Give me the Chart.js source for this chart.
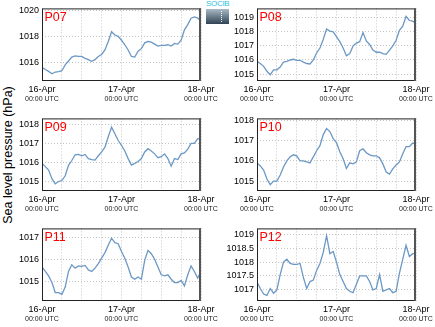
<!DOCTYPE html>
<html>
<head>
<meta charset="utf-8">
<script src="https://cdn.jsdelivr.net/npm/chart.js@4.4.1/dist/chart.umd.min.js"></script>
<style>
  body { margin: 0; width: 435px; height: 327px; overflow: hidden; background: #fff; position: relative; font-family: 'Liberation Sans', Arial, sans-serif; }
  canvas { position: absolute; }
  #ylabel { position: absolute; left: 8px; top: 155px; transform: translate(-50%, -50%) rotate(-90deg); font-size: 12.5px; white-space: nowrap; color: #000; }
  #logo { position: absolute; left: 206px; top: 0; width: 23px; }
  #logo span { display: block; font-size: 8px; line-height: 8px; color: #2ec2e0; letter-spacing: -0.3px; }
  #logo div { height: 15px; margin-top: 1px; background: linear-gradient(#a9bac6, #2f4354); position: relative; }
  #logo div::after { content: ''; position: absolute; left: 15px; top: 2px; height: 11px; border-left: 1px dotted #fff; }
</style>
</head>
<body>
<div id="ylabel">Sea level pressure (hPa)</div>
<div id="logo"><span>SOCIB</span><div></div></div>
<script>
// hours since 16-Apr 00:00 UTC
const hours = [0, 1, 2, 3, 4, 5, 6, 7, 8, 9, 10, 11, 12, 13, 14, 15, 16, 17, 18, 19, 20, 21, 22, 23, 24,
  25, 26, 27, 28, 29, 30, 31, 32, 33, 34, 35, 36, 37, 38, 39, 40, 41, 42, 43, 44, 45, 46, 47, 48];

const dayHours = [0, 24, 48];
const dayLabels = ['16-Apr', '17-Apr', '18-Apr'];
const timeLabel = '00:00 UTC';

const stations = ['P07', 'P08', 'P09', 'P10', 'P11', 'P12'];

// sea level pressure, hPa
const p07 = [1015.62, 1015.45, 1015.3, 1015.12, 1015.25, 1015.28, 1015.35, 1015.8, 1016.1, 1016.4,
  1016.5, 1016.45, 1016.45, 1016.3, 1016.2, 1016.08, 1016.2, 1016.45, 1016.6, 1016.95,
  1017.6, 1018.35, 1018.1, 1018.0, 1017.7, 1017.35, 1016.95, 1016.45, 1016.4, 1016.85,
  1017.05, 1017.5, 1017.6, 1017.55, 1017.4, 1017.25, 1017.3, 1017.3, 1017.35, 1017.25,
  1017.45, 1017.4, 1017.7, 1018.5, 1018.9, 1019.4, 1019.5, 1019.4, 1019.15];
const p08 = [1015.9, 1015.75, 1015.55, 1015.2, 1014.95, 1015.3, 1015.3, 1015.5, 1015.85, 1015.9,
  1016.0, 1016.05, 1015.98, 1015.98, 1015.85, 1015.75, 1015.72, 1016.0, 1016.5, 1016.85,
  1017.45, 1018.2, 1018.05, 1018.0, 1017.65, 1017.3, 1016.85, 1016.3, 1016.45, 1017.0,
  1017.2, 1017.3, 1017.95, 1017.35, 1017.1, 1016.7, 1016.55, 1016.55, 1016.45, 1016.4,
  1016.7, 1017.0, 1017.4, 1018.1, 1018.4, 1019.1, 1018.8, 1018.75, 1018.6];
const p09 = [1015.95, 1015.78, 1015.6, 1015.15, 1014.88, 1015.0, 1015.05, 1015.3, 1015.85, 1016.1,
  1016.4, 1016.42, 1016.35, 1016.42, 1016.2, 1016.15, 1016.12, 1016.35, 1016.55, 1016.8,
  1017.35, 1017.85, 1017.5, 1017.15, 1016.9, 1016.6, 1016.2, 1015.86, 1015.95, 1016.05,
  1016.2, 1016.55, 1016.72, 1016.6, 1016.45, 1016.25, 1016.3, 1016.45, 1016.2, 1015.8,
  1016.2, 1016.15, 1016.45, 1016.5, 1016.7, 1017.0, 1017.0, 1017.25, 1017.22];
const p10 = [1015.9, 1015.75, 1015.55, 1015.1, 1014.82, 1015.0, 1015.0, 1015.3, 1015.7, 1016.0,
  1016.2, 1016.3, 1016.25, 1016.0, 1016.0, 1015.95, 1015.9, 1016.2, 1016.5, 1016.75,
  1017.3, 1017.6, 1017.45, 1017.1, 1016.9, 1016.45, 1016.1, 1015.62, 1015.9, 1015.85,
  1015.95, 1016.5, 1016.6, 1016.4, 1016.3, 1016.25, 1016.25, 1016.15, 1015.85, 1015.45,
  1015.35, 1015.6, 1015.8, 1015.95, 1016.35, 1016.7, 1016.7, 1016.88, 1016.85];
const p11 = [1015.66, 1015.45, 1015.25, 1014.95, 1014.5, 1014.5, 1014.42, 1014.75, 1015.45, 1015.75,
  1015.6, 1015.7, 1015.68, 1015.72, 1015.52, 1015.45, 1015.6, 1015.8, 1016.05, 1016.3,
  1016.63, 1016.95, 1016.75, 1016.7, 1016.35, 1016.05, 1015.65, 1015.2, 1015.1, 1015.2,
  1015.1, 1015.95, 1016.4, 1016.25, 1016.0, 1015.65, 1015.3, 1015.25, 1015.3, 1015.1,
  1014.95, 1014.95, 1015.05, 1014.8, 1015.3, 1015.7, 1015.45, 1015.15, 1015.45];
const p12 = [1017.28, 1017.05, 1016.85, 1016.8, 1017.05, 1016.88, 1017.0, 1017.55, 1018.0, 1018.1,
  1017.95, 1017.92, 1017.92, 1017.95, 1017.45, 1017.05, 1017.3, 1017.35, 1017.7, 1017.95,
  1018.35, 1018.95, 1018.3, 1018.38, 1018.0, 1017.55, 1017.3, 1017.05, 1016.95, 1016.9,
  1017.2, 1017.5, 1017.5, 1017.5, 1017.3, 1017.0, 1017.05, 1017.55, 1016.95, 1017.0,
  1017.05, 1016.9, 1016.95, 1017.6, 1018.1, 1018.6, 1018.2, 1018.3, 1018.3];

const series = [p07, p08, p09, p10, p11, p12];

// pressure tick labels per station
const yTicks = [
  [1016, 1018, 1020],
  [1015, 1016, 1017, 1018, 1019],
  [1015, 1016, 1017, 1018],
  [1015, 1016, 1017, 1018],
  [1015, 1016, 1017],
  [1017, 1017.5, 1018, 1018.5, 1019]
];

// axis extents per station
const yMins = [1014.56, 1014.51, 1014.5, 1014.51, 1014.12, 1016.6];
const yMaxs = [1020.15, 1019.66, 1018.31, 1018.1, 1017.39, 1019.21];

const FONT = "'Liberation Sans', Arial, sans-serif";
const GRID = '#c4c4c4';

// station name in the top-left corner of the plot
const stationLabel = {
  id: 'stationLabel',
  afterDatasetsDraw(chart, args, opts) {
    const { ctx, chartArea } = chart;
    ctx.save();
    ctx.fillStyle = '#ff0000';
    ctx.font = '12.5px ' + FONT;
    ctx.textBaseline = 'alphabetic';
    ctx.fillText(opts.text, chartArea.left + 2.5, chartArea.top + 12.5);
    ctx.restore();
  }
};

// box round the plot area
const frame = {
  id: 'frame',
  afterDraw(chart) {
    const { ctx, chartArea: a } = chart;
    ctx.save();
    ctx.strokeStyle = '#222';
    ctx.lineWidth = 1;
    ctx.strokeRect(a.left + 0.5, a.top + 0.5, a.right - a.left - 1, a.bottom - a.top - 1);
    ctx.strokeStyle = '#555';
    ctx.lineWidth = 2;
    ctx.beginPath();
    ctx.moveTo(a.right - 1, a.top);
    ctx.lineTo(a.right - 1, a.bottom);
    ctx.stroke();
    ctx.restore();
  }
};

function makePanel(i) {
  const col = i % 2;
  const row = Math.floor(i / 2);
  const canvas = document.createElement('canvas');
  canvas.width = col === 0 ? 235 : 220;
  canvas.height = 110;
  canvas.style.left = (col * 215) + 'px';
  canvas.style.top = (row * 110) + 'px';
  document.body.appendChild(canvas);

  new Chart(canvas.getContext('2d'), {
    type: 'line',
    data: {
      datasets: [{
        data: hours.map((h, k) => ({ x: h, y: series[i][k] })),
        borderColor: '#6b98c5',
        borderWidth: 1.3,
        pointRadius: 0,
        tension: 0,
        fill: false
      }]
    },
    options: {
      responsive: false,
      animation: false,
      devicePixelRatio: 1,
      layout: { padding: { left: 0, top: 7, right: col === 0 ? 34 : 19, bottom: 0 } },
      plugins: {
        legend: { display: false },
        tooltip: { enabled: false },
        stationLabel: { text: stations[i] }
      },
      scales: {
        x: {
          type: 'linear',
          min: 0,
          max: 48,
          weight: 0,
          afterFit: s => { s.height = 14; },
          grid: { color: GRID, drawTicks: false },
          border: { display: false, dash: [1, 2] },
          ticks: {
            stepSize: 6,
            autoSkip: false,
            maxRotation: 0,
            padding: 3,
            color: '#000',
            font: { family: FONT, size: 9 },
            callback: v => {
              const k = dayHours.indexOf(v);
              return k >= 0 ? dayLabels[k] : '';
            }
          }
        },
        x2: {
          type: 'linear',
          position: 'bottom',
          min: 0,
          max: 48,
          weight: 1,
          afterFit: s => { s.height = 15; },
          grid: { display: false, drawTicks: false },
          border: { display: false },
          ticks: {
            stepSize: 24,
            autoSkip: false,
            maxRotation: 0,
            padding: 0,
            color: '#222',
            font: { family: FONT, size: 7 },
            callback: () => timeLabel
          }
        },
        y: {
          min: yMins[i],
          max: yMaxs[i],
          bounds: 'data',
          afterFit: s => { s.width = 42; },
          afterBuildTicks: s => { s.ticks = yTicks[i].map(v => ({ value: v })); },
          grid: { color: GRID, drawTicks: false },
          border: { display: false, dash: [1, 2] },
          ticks: {
            padding: 3,
            color: '#000',
            font: { family: FONT, size: 9 },
            callback: v => String(v)
          }
        }
      }
    },
    plugins: [stationLabel, frame]
  });
}

stations.forEach((s, i) => makePanel(i));
</script>
</body>
</html>
